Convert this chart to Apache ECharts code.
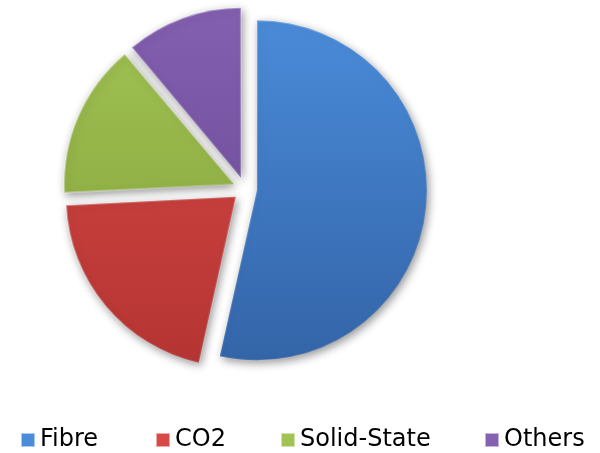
<!DOCTYPE html>
<html>
<head>
<meta charset="utf-8">
<script src="https://cdn.jsdelivr.net/npm/echarts@6/dist/echarts.min.js"></script>
<style>html,body{margin:0;padding:0;background:#fff}#c{width:600px;height:453px}</style>
</head>
<body>
<div id="c"></div>
<script>
var categories = ['Fibre', 'CO2', 'Solid-State', 'Others'];
var values = [53.5, 20.7, 14.7, 11.1];
var topColors = ['#4b8ddb', '#d94a47', '#a2c454', '#8561b2'];
var bottomColors = ['#3262a5', '#b23331', '#829f3a', '#654690'];
var legendLeft = [20, 155, 280, 484];

function grad(i) {
  return new echarts.graphic.LinearGradient(0, 0, 0, 380, [
    {offset: 0, color: topColors[i]},
    {offset: 1, color: bottomColors[i]}
  ], true);
}
function bevel() {
  return new echarts.graphic.LinearGradient(0, 0, 600, 380, [
    {offset: 0, color: 'rgba(255,255,255,0.55)'},
    {offset: 0.5, color: 'rgba(255,255,255,0.1)'},
    {offset: 1, color: 'rgba(0,0,0,0.4)'}
  ], true);
}

var data = categories.map(function (name, i) {
  return {
    name: name,
    value: values[i],
    selected: true,
    itemStyle: {color: grad(i), borderColor: bevel(), borderWidth: 2}
  };
});

var legends = categories.map(function (name, i) {
  return {
    data: [name],
    left: legendLeft[i],
    top: 428,
    padding: 0,
    icon: 'rect',
    itemWidth: 14,
    itemHeight: 14,
    itemGap: 0,
    selectedMode: false,
    textStyle: {fontSize: 24, fontFamily: 'DejaVu Sans', color: '#000', padding: [0, 0, 0, 0]}
  };
});

var chart = echarts.init(document.getElementById('c'), null, {renderer: 'canvas'});
chart.setOption({
  animation: false,
  backgroundColor: '#fff',
  legend: legends,
  series: [{
    type: 'pie',
    center: [245, 189],
    radius: 170,
    startAngle: 90,
    clockwise: true,
    selectedMode: 'multiple',
    selectedOffset: 12,
    label: {show: false},
    labelLine: {show: false},
    emphasis: {disabled: true},
    itemStyle: {
      shadowBlur: 8,
      shadowColor: 'rgba(0,0,0,0.4)',
      shadowOffsetX: 2,
      shadowOffsetY: 3
    },
    data: data
  }]
});
</script>
</body>
</html>
